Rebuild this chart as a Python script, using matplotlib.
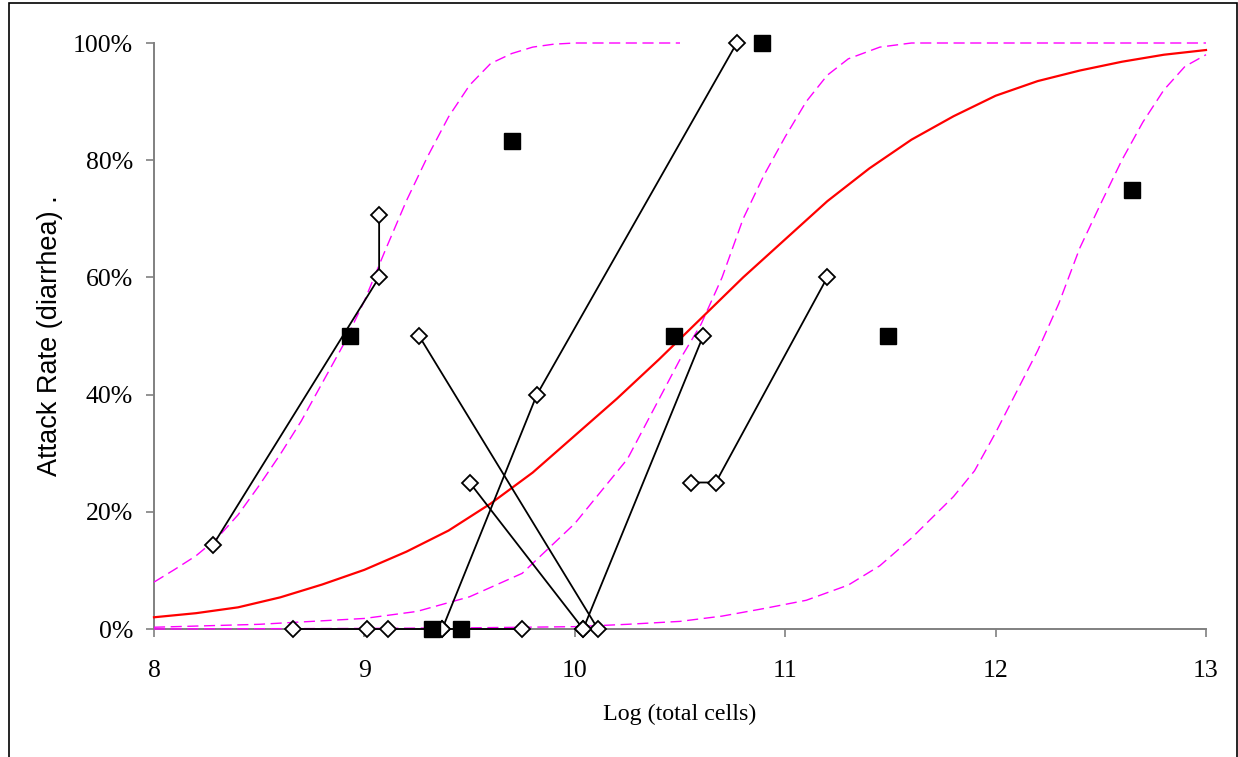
import matplotlib
matplotlib.use("Agg")
import matplotlib.pyplot as plt
from matplotlib.ticker import FuncFormatter, FixedLocator
from matplotlib.patches import Rectangle

# ---------------- data (log total cells, attack rate %) ----------------
# observed study groups (open diamonds, joined by lines)
chain1_x = [8.28, 9.07, 9.07]
chain1_y = [14.3, 60.0, 70.6]
chain2_x = [9.26, 10.11]
chain2_y = [50.0, 0.0]
chain3_x = [9.50, 10.04]
chain3_y = [25.0, 0.0]
chain4_x = [9.37, 9.82, 10.77]
chain4_y = [0.0, 40.0, 100.0]
chain5_x = [10.04, 10.61]
chain5_y = [0.0, 50.0]
chain6_x = [10.55, 10.67, 11.20]
chain6_y = [25.0, 25.0, 60.0]
chain7_x = [8.66, 9.01, 9.11, 9.37, 9.75]
chain7_y = [0.0, 0.0, 0.0, 0.0, 0.0]

# single-dose groups (filled squares)
sq_x = [8.93, 9.70, 10.89, 10.47, 11.49, 12.65, 9.32, 9.46]
sq_y = [50.0, 83.3, 100.0, 50.0, 50.0, 75.0, 0.0, 0.0]

# fitted dose-response curve (red)
fit_x = [8.0, 8.2, 8.4, 8.6, 8.8, 9.0, 9.2, 9.4, 9.6, 9.8, 10.0, 10.2, 10.4,
         10.6, 10.8, 11.0, 11.2, 11.4, 11.6, 11.8, 12.0, 12.2, 12.4, 12.6,
         12.8, 13.0]
fit_y = [2.0, 2.7, 3.7, 5.4, 7.6, 10.1, 13.2, 16.8, 21.4, 26.7, 33.0, 39.3,
         46.0, 53.0, 60.0, 66.5, 73.0, 78.6, 83.5, 87.5, 91.0, 93.5, 95.3,
         96.8, 98.0, 98.8]

# confidence bounds (magenta dashed)
upper_x = [8.0, 8.1, 8.2, 8.3, 8.4, 8.5, 8.6, 8.7, 8.8, 8.9, 9.0, 9.1, 9.2,
           9.3, 9.4, 9.5, 9.6, 9.7, 9.8, 9.9, 10.0, 10.5]
upper_y = [8.0, 10.2, 12.5, 15.5, 19.5, 24.5, 29.8, 35.5, 42.0, 48.5, 56.0,
           64.7, 73.1, 80.6, 87.4, 92.8, 96.5, 98.2, 99.3, 99.8, 100.0, 100.0]

mid_x = [8.0, 8.5, 9.0, 9.25, 9.5, 9.75, 10.0, 10.25, 10.5, 10.6, 10.7,
         10.8, 10.9, 11.0, 11.1, 11.2, 11.3, 11.45, 11.6, 13.0]
mid_y = [0.3, 0.8, 1.8, 3.0, 5.5, 9.5, 18.0, 29.0, 46.0, 52.0, 60.0, 70.0,
         77.5, 84.0, 90.0, 94.5, 97.3, 99.3, 100.0, 100.0]

lower_x = [8.0, 9.0, 9.5, 10.0, 10.25, 10.5, 10.7, 10.9, 11.1, 11.3, 11.45,
           11.6, 11.8, 11.9, 12.0, 12.1, 12.2, 12.3, 12.4, 12.5, 12.6, 12.7,
           12.8, 12.9, 13.0]
lower_y = [0.0, 0.1, 0.2, 0.4, 0.8, 1.3, 2.2, 3.5, 4.9, 7.5, 10.8, 15.5, 22.6,
           27.0, 33.5, 40.5, 47.5, 55.5, 65.0, 72.6, 80.0, 86.5, 92.0, 96.0,
           98.0]

x_ticks = [8, 9, 10, 11, 12, 13]
y_ticks = [0, 20, 40, 60, 80, 100]
x_label = "Log (total cells)"
y_label = "Attack Rate (diarrhea) ."

# ---------------- figure ----------------
W, H = 1238, 757
fig = plt.figure(figsize=(W / 100, H / 100), dpi=100)
fig.patch.set_facecolor("white")
ax = fig.add_axes([154 / W, 1 - 629 / H, (1206 - 154) / W, (629 - 43) / H])

serif = ["Liberation Serif", "DejaVu Serif"]
narrow = ["Liberation Sans Narrow", "Liberation Sans", "DejaVu Sans"]

def pct(v):
    return [a / 100.0 for a in v]

mag = "#FF00FF"
for xs, ys in [(upper_x, upper_y), (mid_x, mid_y), (lower_x, lower_y)]:
    ln, = ax.plot(xs, pct(ys), color=mag, lw=1.0, clip_on=False, zorder=2)
    ln.set_dashes([8, 4])

ax.plot(fit_x, pct(fit_y), color="#FF0000", lw=1.6, clip_on=False, zorder=3)

for xs, ys in [(chain1_x, chain1_y), (chain2_x, chain2_y), (chain3_x, chain3_y),
               (chain4_x, chain4_y), (chain5_x, chain5_y), (chain6_x, chain6_y),
               (chain7_x, chain7_y)]:
    ax.plot(xs, pct(ys), color="black", lw=1.3, marker="D", ms=8.5,
            mfc="white", mec="black", mew=1.3, clip_on=False, zorder=4)

ax.plot(sq_x, pct(sq_y), ls="none", marker="s", ms=12, mfc="black",
        mec="black", clip_on=False, zorder=5)

ax.set_xlim(8, 13)
ax.set_ylim(0, 1)
ax.xaxis.set_major_locator(FixedLocator(x_ticks))
ax.yaxis.set_major_locator(FixedLocator([t / 100 for t in y_ticks]))
ax.yaxis.set_major_formatter(FuncFormatter(lambda v, p: f"{v * 100:.0f}%"))

for s in ["top", "right"]:
    ax.spines[s].set_visible(False)
for s in ["left", "bottom"]:
    ax.spines[s].set_color("#808080")
    ax.spines[s].set_linewidth(1.4)
    ax.spines[s].set_zorder(1)

ax.tick_params(axis="both", direction="out", length=6, width=1.2,
               color="#808080", labelsize=18.5)
ax.tick_params(axis="y", pad=9)
ax.tick_params(axis="x", pad=16)
for lab in ax.get_xticklabels() + ax.get_yticklabels():
    lab.set_family(serif)

ax.set_xlabel(x_label, fontsize=17.3, family=serif, labelpad=16)
ax.set_ylabel(y_label, fontsize=19.5, family=narrow, labelpad=7)

# outer border of the chart
fig.patches.append(Rectangle((9 / W, -0.02), (1237 - 9) / W, 1.02 - 3 / H,
                             transform=fig.transFigure, fill=False,
                             edgecolor="black", lw=1.2, zorder=0))

fig.savefig("out.png", dpi=100, facecolor="white")
